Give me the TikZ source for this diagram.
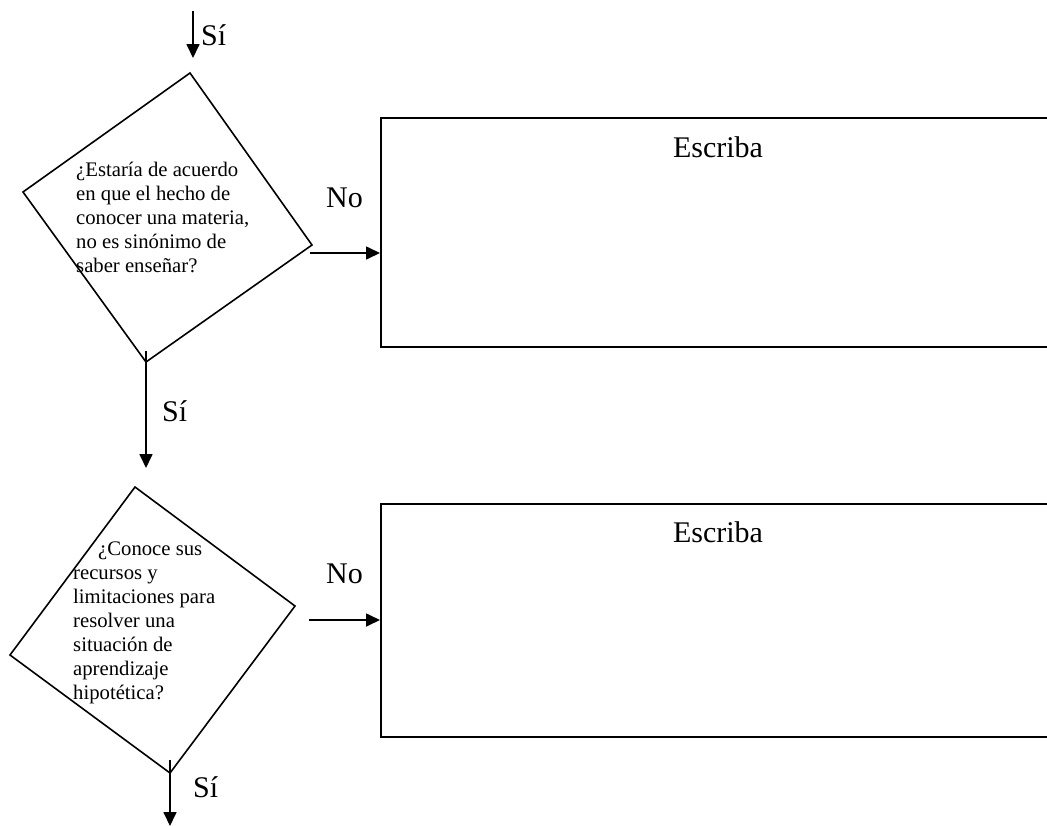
\documentclass[tikz,border=0pt]{standalone}
\usepackage{fontspec}
\setmainfont{Liberation Serif}
\usetikzlibrary{arrows.meta}
\begin{document}
\begin{tikzpicture}[x=1pt,y=-1pt,
  shp/.style={line width=1.6pt, line join=miter},
  box/.style={draw, line width=1.8pt, anchor=north west, inner sep=0pt},
  arr/.style={line width=1.7pt, -{Triangle[length=14pt,width=13pt]}},
  lbl/.style={anchor=base west, inner sep=0pt, font=\fontsize{30}{36}\selectfont},
  qtext/.style={anchor=north west, inner sep=0pt, align=left, font=\fontsize{20.7}{24}\selectfont}]
\useasboundingbox (0,0) rectangle (1047,825);
\clip (0,0) rectangle (1047,825);
% top incoming arrow
\coordinate (t0) at (193,11);
\coordinate (t1) at (193,58);
\draw[arr] (t0) -- (t1);
\node[lbl] (si0) at (201,45) {Sí};
% diamond 1
\coordinate (d1t) at (190,73);
\coordinate (d1r) at (312,245);
\coordinate (d1b) at (146,362);
\coordinate (d1l) at (23,192);
\draw[shp] (d1t) -- (d1r) -- (d1b) -- (d1l) -- cycle;
\node[qtext] (q1) at (76,159.2) {\strut¿Estaría de acuerdo\\en que el hecho de\\conocer una materia,\\no es sinónimo de\\saber enseñar?};
% box 1
\node[box, minimum width=720pt, minimum height=229pt] (r1) at (380,117) {};
\node[anchor=base, inner sep=0pt, font=\fontsize{30}{36}\selectfont] (e1) at (718,157) {Escriba};
\coordinate (n1) at (310,253);
\draw[arr] (n1) -- (n1 -| r1.west);
\node[lbl] (no1) at (326,207) {No};
% middle arrow
\coordinate (m0) at (146,351);
\coordinate (m1) at (146,468);
\draw[arr] (m0) -- (m1);
\node[lbl] (si1) at (162,421) {Sí};
% diamond 2
\coordinate (d2t) at (135,487);
\coordinate (d2r) at (295,606);
\coordinate (d2b) at (170,773);
\coordinate (d2l) at (10,655);
\draw[shp] (d2t) -- (d2r) -- (d2b) -- (d2l) -- cycle;
\node[qtext] (q2) at (73,538.2) {\strut\hspace*{25pt}¿Conoce sus\\recursos y\\limitaciones para\\resolver una\\situación de\\aprendizaje\\hipotética?};
% box 2
\node[box, minimum width=720pt, minimum height=233pt] (r2) at (380,503) {};
\node[anchor=base, inner sep=0pt, font=\fontsize{30}{36}\selectfont] (e2) at (718,542) {Escriba};
\coordinate (n2) at (309,620);
\draw[arr] (n2) -- (n2 -| r2.west);
\node[lbl] (no2) at (326,583) {No};
% bottom arrow
\coordinate (b0) at (170,760);
\coordinate (b1) at (170,826);
\draw[arr] (b0) -- (b1);
\node[lbl] (si2) at (193,797) {Sí};
\end{tikzpicture}
\end{document}
